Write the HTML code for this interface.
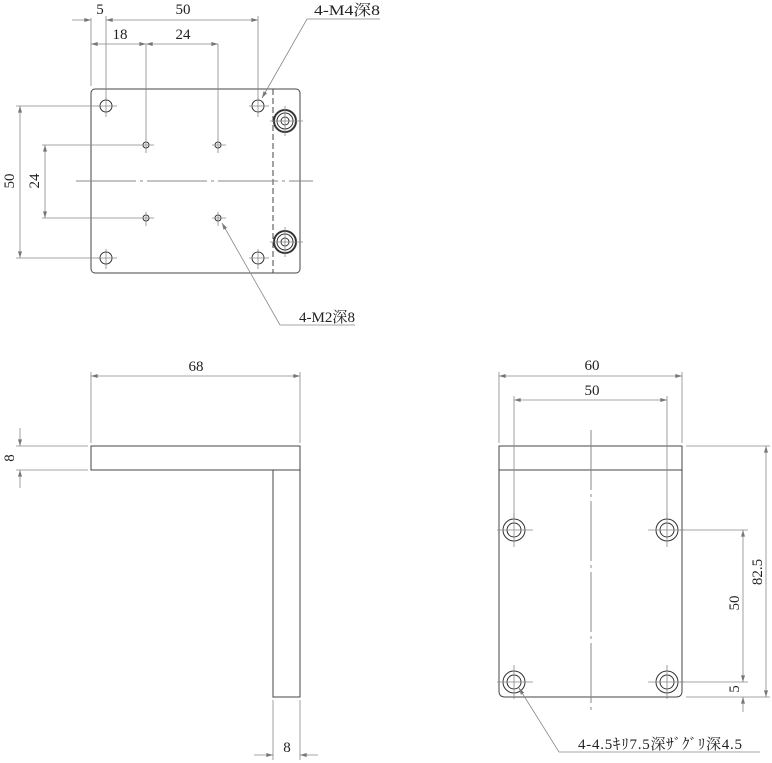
<!DOCTYPE html>
<html><head><meta charset="utf-8"><style>
html,body{margin:0;padding:0;background:#fff}
svg{display:block}
text{font-family:"Liberation Serif","Noto Serif CJK SC",serif;font-size:15px;fill:#222}
</style></head><body>
<svg width="772" height="763" viewBox="0 0 772 763" xmlns="http://www.w3.org/2000/svg">
<defs>
<marker id="a" viewBox="0 0 10 6" refX="10" refY="3" markerWidth="8" markerHeight="4" orient="auto-start-reverse" markerUnits="userSpaceOnUse"><path d="M0,0L10,3L0,6z" fill="#777"/></marker>
</defs>
<g stroke="#444" stroke-width="1" fill="none">
<!-- TOP VIEW -->
<rect x="91" y="89" width="209" height="184" rx="4"/>
<line x1="273" y1="89" x2="273" y2="273" stroke-dasharray="6,3"/>
<line x1="76" y1="181" x2="313" y2="181" stroke="#888" stroke-dasharray="60,4,3,4"/>
<g stroke="#333">
<circle cx="106" cy="106" r="6"/><circle cx="258" cy="106" r="6"/><circle cx="106" cy="258" r="6"/><circle cx="258" cy="258" r="6"/>
<circle cx="146" cy="145" r="3"/><circle cx="218" cy="145" r="3"/><circle cx="146" cy="218" r="3"/><circle cx="218" cy="218" r="3"/>
<circle cx="285" cy="121" r="11" stroke-width="2"/><circle cx="285" cy="121" r="8"/><circle cx="285" cy="121" r="4"/>
<circle cx="285" cy="242" r="11" stroke-width="2"/><circle cx="285" cy="242" r="8"/><circle cx="285" cy="242" r="4"/>
</g>
<g stroke="#888" stroke-width="0.8">
<path d="M97 106h20M106 97v20M249 106h20M258 97v20M97 258h20M106 249v20M249 258h20M258 249v20"/>
<path d="M140 145h14M146 139v14M212 145h14M218 139v14M140 218h14M146 212v14M212 218h14M218 212v14"/>
<path d="M270 121h33M285 106v30M270 242h33M285 227v30"/>
<line x1="91" y1="18" x2="91" y2="86"/><line x1="106" y1="16" x2="106" y2="100"/><line x1="258" y1="16" x2="258" y2="100"/>
<line x1="72" y1="20" x2="91" y2="20" marker-end="url(#a)"/>
<line x1="106" y1="20" x2="258" y2="20" marker-start="url(#a)" marker-end="url(#a)"/>
<line x1="91" y1="44" x2="146" y2="44" marker-start="url(#a)" marker-end="url(#a)"/>
<line x1="146" y1="44" x2="218" y2="44" marker-start="url(#a)" marker-end="url(#a)"/>
<line x1="146" y1="44" x2="146" y2="140"/><line x1="218" y1="44" x2="218" y2="140"/>
<line x1="16" y1="106" x2="100" y2="106"/><line x1="16" y1="258" x2="100" y2="258"/>
<line x1="20" y1="106" x2="20" y2="258" marker-start="url(#a)" marker-end="url(#a)"/>
<line x1="42" y1="145" x2="140" y2="145"/><line x1="42" y1="218" x2="140" y2="218"/>
<line x1="45" y1="145" x2="45" y2="218" marker-start="url(#a)" marker-end="url(#a)"/>
<polyline points="380,19 307,19 262,98" marker-end="url(#a)"/>
<polyline points="355,325 280,325 222,223" marker-end="url(#a)"/>
</g>
<!-- SIDE VIEW -->
<rect x="91" y="446" width="209" height="24"/>
<rect x="273" y="470" width="27" height="227"/>
<g stroke="#888" stroke-width="0.8">
<line x1="91" y1="372" x2="91" y2="443"/><line x1="300" y1="372" x2="300" y2="443"/>
<line x1="91" y1="376" x2="300" y2="376" marker-start="url(#a)" marker-end="url(#a)"/>
<line x1="16" y1="446" x2="88" y2="446"/><line x1="16" y1="470" x2="88" y2="470"/>
<line x1="20" y1="428" x2="20" y2="446" marker-end="url(#a)"/>
<line x1="20" y1="488" x2="20" y2="470" marker-end="url(#a)"/>
<line x1="273" y1="700" x2="273" y2="760"/><line x1="300" y1="700" x2="300" y2="760"/>
<line x1="254" y1="755" x2="273" y2="755" marker-end="url(#a)"/>
<line x1="318" y1="755" x2="300" y2="755" marker-end="url(#a)"/>
</g>
<!-- FRONT VIEW -->
<path d="M499 446H682V691Q682 697 676 697H505Q499 697 499 691Z"/>
<line x1="499" y1="470" x2="682" y2="470"/>
<line x1="591" y1="430" x2="591" y2="712" stroke="#888" stroke-dasharray="60,4,3,4"/>
<g stroke="#333">
<circle cx="514" cy="530" r="11"/><circle cx="514" cy="530" r="7"/>
<circle cx="667" cy="530" r="11"/><circle cx="667" cy="530" r="7"/>
<circle cx="514" cy="682" r="11"/><circle cx="514" cy="682" r="7"/>
<circle cx="667" cy="682" r="11"/><circle cx="667" cy="682" r="7"/>
</g>
<g stroke="#888" stroke-width="0.8">
<path d="M497 530h36M514 513v34M648 530h36M667 513v34M497 682h36M514 665v34M648 682h36M667 665v34"/>
<line x1="499" y1="372" x2="499" y2="443"/><line x1="682" y1="372" x2="682" y2="443"/>
<line x1="499" y1="376" x2="682" y2="376" marker-start="url(#a)" marker-end="url(#a)"/>
<line x1="514" y1="396" x2="514" y2="520"/><line x1="667" y1="396" x2="667" y2="520"/>
<line x1="514" y1="400" x2="667" y2="400" marker-start="url(#a)" marker-end="url(#a)"/>
<line x1="686" y1="446" x2="770" y2="446"/><line x1="686" y1="697" x2="770" y2="697"/>
<line x1="766" y1="446" x2="766" y2="697" marker-start="url(#a)" marker-end="url(#a)"/>
<line x1="680" y1="530" x2="748" y2="530"/><line x1="680" y1="682" x2="748" y2="682"/>
<line x1="743" y1="530" x2="743" y2="682" marker-start="url(#a)" marker-end="url(#a)"/>
<line x1="743" y1="712" x2="743" y2="697" marker-end="url(#a)"/>
<polyline points="760,752 559,752 519,688" marker-end="url(#a)"/>
</g>
</g>
<text x="100" y="14" text-anchor="middle">5</text>
<text x="183" y="14" text-anchor="middle">50</text>
<text x="120" y="39" text-anchor="middle">18</text>
<text x="183" y="39" text-anchor="middle">24</text>
<text x="314" y="15" textLength="66" lengthAdjust="spacingAndGlyphs">4-M4深8</text>
<text x="299" y="322" textLength="56" lengthAdjust="spacingAndGlyphs">4-M2深8</text>
<text transform="translate(14,181) rotate(-90)" text-anchor="middle">50</text>
<text transform="translate(39,181) rotate(-90)" text-anchor="middle">24</text>
<text x="196" y="371" text-anchor="middle">68</text>
<text transform="translate(14,458) rotate(-90)" text-anchor="middle">8</text>
<text x="287" y="752" text-anchor="middle">8</text>
<text x="592" y="370" text-anchor="middle">60</text>
<text x="592" y="395" text-anchor="middle">50</text>
<text transform="translate(762,572) rotate(-90)" text-anchor="middle">82.5</text>
<text transform="translate(739,603) rotate(-90)" text-anchor="middle">50</text>
<text transform="translate(739,689) rotate(-90)" text-anchor="middle">5</text>
<text x="578" y="749" textLength="164" lengthAdjust="spacing">4-4.5ｷﾘ7.5深ｻﾞｸﾞﾘ深4.5</text>
</svg>
</body></html>
